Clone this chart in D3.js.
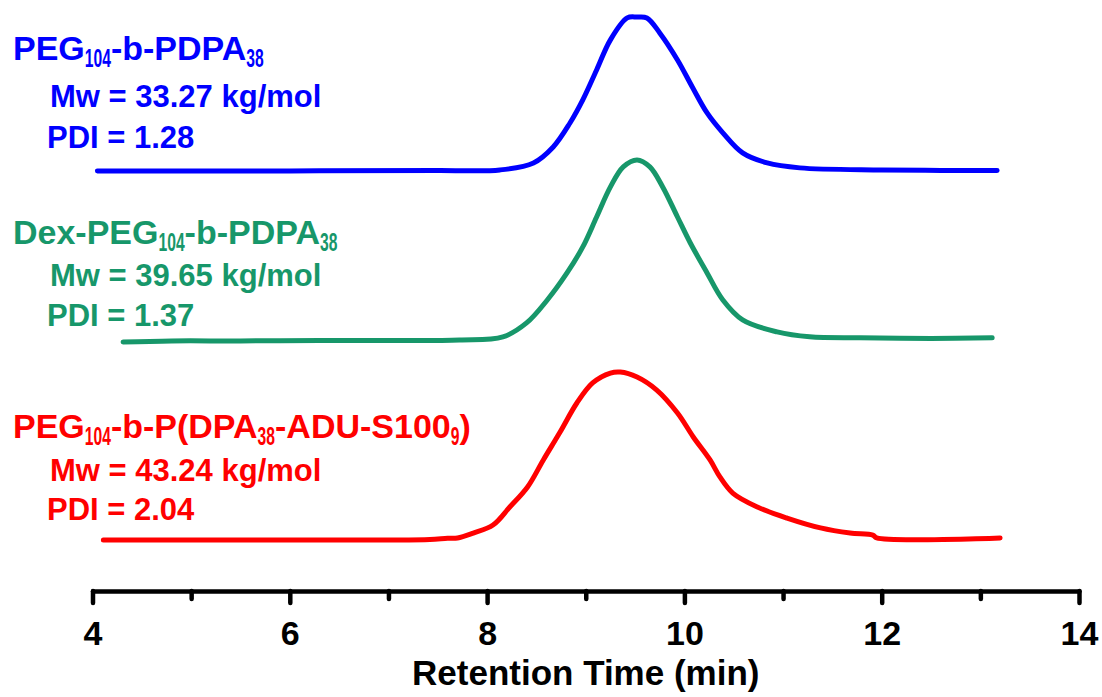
<!DOCTYPE html>
<html>
<head>
<meta charset="utf-8">
<script src="https://cdn.jsdelivr.net/npm/d3@7"></script>
<style>
  body { margin: 0; background: #fff; }
  svg text { font-family: Arial, "Liberation Sans", sans-serif; font-weight: bold; }
</style>
</head>
<body>
<div id="chart"></div>
<script>
// retention time (min) and detector signal (relative to each trace's own baseline)
const blueTime = [4.05, 6.0, 7.5, 8.13, 8.47, 8.67, 8.84, 8.97, 9.11, 9.25, 9.42, 9.52, 9.62, 9.75, 9.93, 10.08, 10.23, 10.39, 10.59, 10.84, 11.17, 12.0, 12.6, 13.17];
const blueSignal = [0, 0, 0.003, 0.006, 0.047, 0.141, 0.282, 0.418, 0.594, 0.771, 0.9, 0.905, 0.9, 0.812, 0.653, 0.494, 0.341, 0.224, 0.106, 0.047, 0.018, 0.006, 0.003, 0.003];

const greenTime = [4.31, 4.8, 5.5, 6.3, 7.0, 7.72, 8.16, 8.40, 8.61, 8.81, 8.97, 9.11, 9.25, 9.38, 9.52, 9.65, 9.78, 9.93, 10.06, 10.23, 10.39, 10.59, 10.94, 11.27, 11.78, 12.5, 13.12];
const greenSignal = [-0.006, 0, 0, 0.003, 0.003, 0.006, 0.024, 0.106, 0.241, 0.4, 0.553, 0.729, 0.906, 1.024, 1.065, 1.024, 0.906, 0.729, 0.576, 0.4, 0.241, 0.124, 0.053, 0.024, 0.018, 0.015, 0.018];

const redTime = [4.11, 5.5, 7.0, 7.42, 7.6, 7.7, 7.86, 8.06, 8.23, 8.41, 8.57, 8.74, 8.91, 9.07, 9.25, 9.35, 9.52, 9.72, 9.93, 10.09, 10.26, 10.36, 10.49, 10.74, 11.04, 11.38, 11.68, 11.91, 11.95, 13.2];
const redSignal = [0, 0, 0, 0.003, 0.01, 0.012, 0.041, 0.088, 0.194, 0.312, 0.471, 0.635, 0.806, 0.924, 0.982, 0.988, 0.959, 0.882, 0.747, 0.606, 0.471, 0.371, 0.276, 0.194, 0.129, 0.071, 0.041, 0.029, 0.012, 0.012];

// vertical stacking offset of each trace
const traceOffsets = [2.471, 1.471, 0.3];
const traceColors = ['#0000ff', '#17976a', '#ff0000'];

// labels: [text, subscript] pieces
const traceTitles = [
  [['PEG', false], ['104', true], ['-b-PDPA', false], ['38', true]],
  [['Dex-PEG', false], ['104', true], ['-b-PDPA', false], ['38', true]],
  [['PEG', false], ['104', true], ['-b-P(DPA', false], ['38', true], ['-ADU-S100', false], ['9', true], [')', false]]
];
const mwLabels = ['Mw = 33.27 kg/mol', 'Mw = 39.65 kg/mol', 'Mw = 43.24 kg/mol'];
const pdiLabels = ['PDI = 1.28', 'PDI = 1.37', 'PDI = 2.04'];

const majorTicks = [4, 6, 8, 10, 12, 14];
const minorTicks = [5, 7, 9, 11, 13];

const width = 1102, height = 697;

const svg = d3.select('#chart')
  .append('svg')
  .attr('width', width)
  .attr('height', height);

const x = d3.scaleLinear().domain([4, 14]).range([92.5, 1079]);
const y = d3.scaleLinear().domain([0, 3.5]).range([591, -4]);

const traces = [
  { t: blueTime, s: blueSignal },
  { t: greenTime, s: greenSignal },
  { t: redTime, s: redSignal }
];

const line = d3.line()
  .x(d => x(d[0]))
  .y(d => y(d[1]))
  .curve(d3.curveCatmullRom.alpha(0.5));

traces.forEach((tr, i) => {
  const pts = tr.t.map((t, j) => [t, tr.s[j] + traceOffsets[i]]);
  svg.append('path')
    .datum(pts)
    .attr('d', line)
    .attr('fill', 'none')
    .attr('stroke', traceColors[i])
    .attr('stroke-width', 5)
    .attr('stroke-linejoin', 'round')
    .attr('stroke-linecap', 'round');
});

// annotations
const titleY = [60, 244, 438];
const mwY = [107, 286, 481];
const pdiY = [148, 326, 520];

traceTitles.forEach((parts, i) => {
  const t = svg.append('text')
    .attr('x', 13)
    .attr('y', titleY[i])
    .attr('fill', traceColors[i])
    .style('font-size', '34px');
  let shifted = false;
  parts.forEach(p => {
    const ts = t.append('tspan').text(p[0]);
    if (p[1]) {
      // narrow, tall subscripts like the original
      ts.attr('dy', 7)
        .attr('textLength', p[0].length * 8.7)
        .attr('lengthAdjust', 'spacingAndGlyphs')
        .style('font-size', '26px');
      shifted = true;
    } else if (shifted) {
      ts.attr('dy', -7);
      shifted = false;
    }
  });

  svg.append('text')
    .attr('x', 50)
    .attr('y', mwY[i])
    .attr('fill', traceColors[i])
    .style('font-size', '31px')
    .text(mwLabels[i]);

  svg.append('text')
    .attr('x', 47)
    .attr('y', pdiY[i])
    .attr('fill', traceColors[i])
    .style('font-size', '31px')
    .text(pdiLabels[i]);
});

// x axis
const axisY = 591;

const minorAxis = svg.append('g')
  .attr('transform', `translate(0,${axisY})`)
  .call(d3.axisBottom(x).tickValues(minorTicks).tickSize(8).tickSizeOuter(0).tickFormat(''));
minorAxis.select('.domain').remove();

const majorAxis = svg.append('g')
  .attr('transform', `translate(0,${axisY})`)
  .call(d3.axisBottom(x).tickValues(majorTicks).tickSize(12).tickSizeOuter(0).tickFormat(d3.format('d')));

svg.selectAll('.tick line')
  .attr('stroke', '#000')
  .attr('stroke-width', 4.5)
  .attr('stroke-linecap', 'round');

majorAxis.select('.domain')
  .attr('stroke', '#000')
  .attr('stroke-width', 4.5)
  .attr('stroke-linecap', 'round');

majorAxis.selectAll('.tick text')
  .attr('y', 54)
  .attr('dy', 0)
  .attr('fill', '#000')
  .style('font-size', '34px')
  .style('font-family', 'Arial, "Liberation Sans", sans-serif');

svg.append('text')
  .attr('x', x(9))
  .attr('y', 685)
  .attr('text-anchor', 'middle')
  .attr('fill', '#000')
  .style('font-size', '35px')
  .text('Retention Time (min)');
</script>
</body>
</html>
